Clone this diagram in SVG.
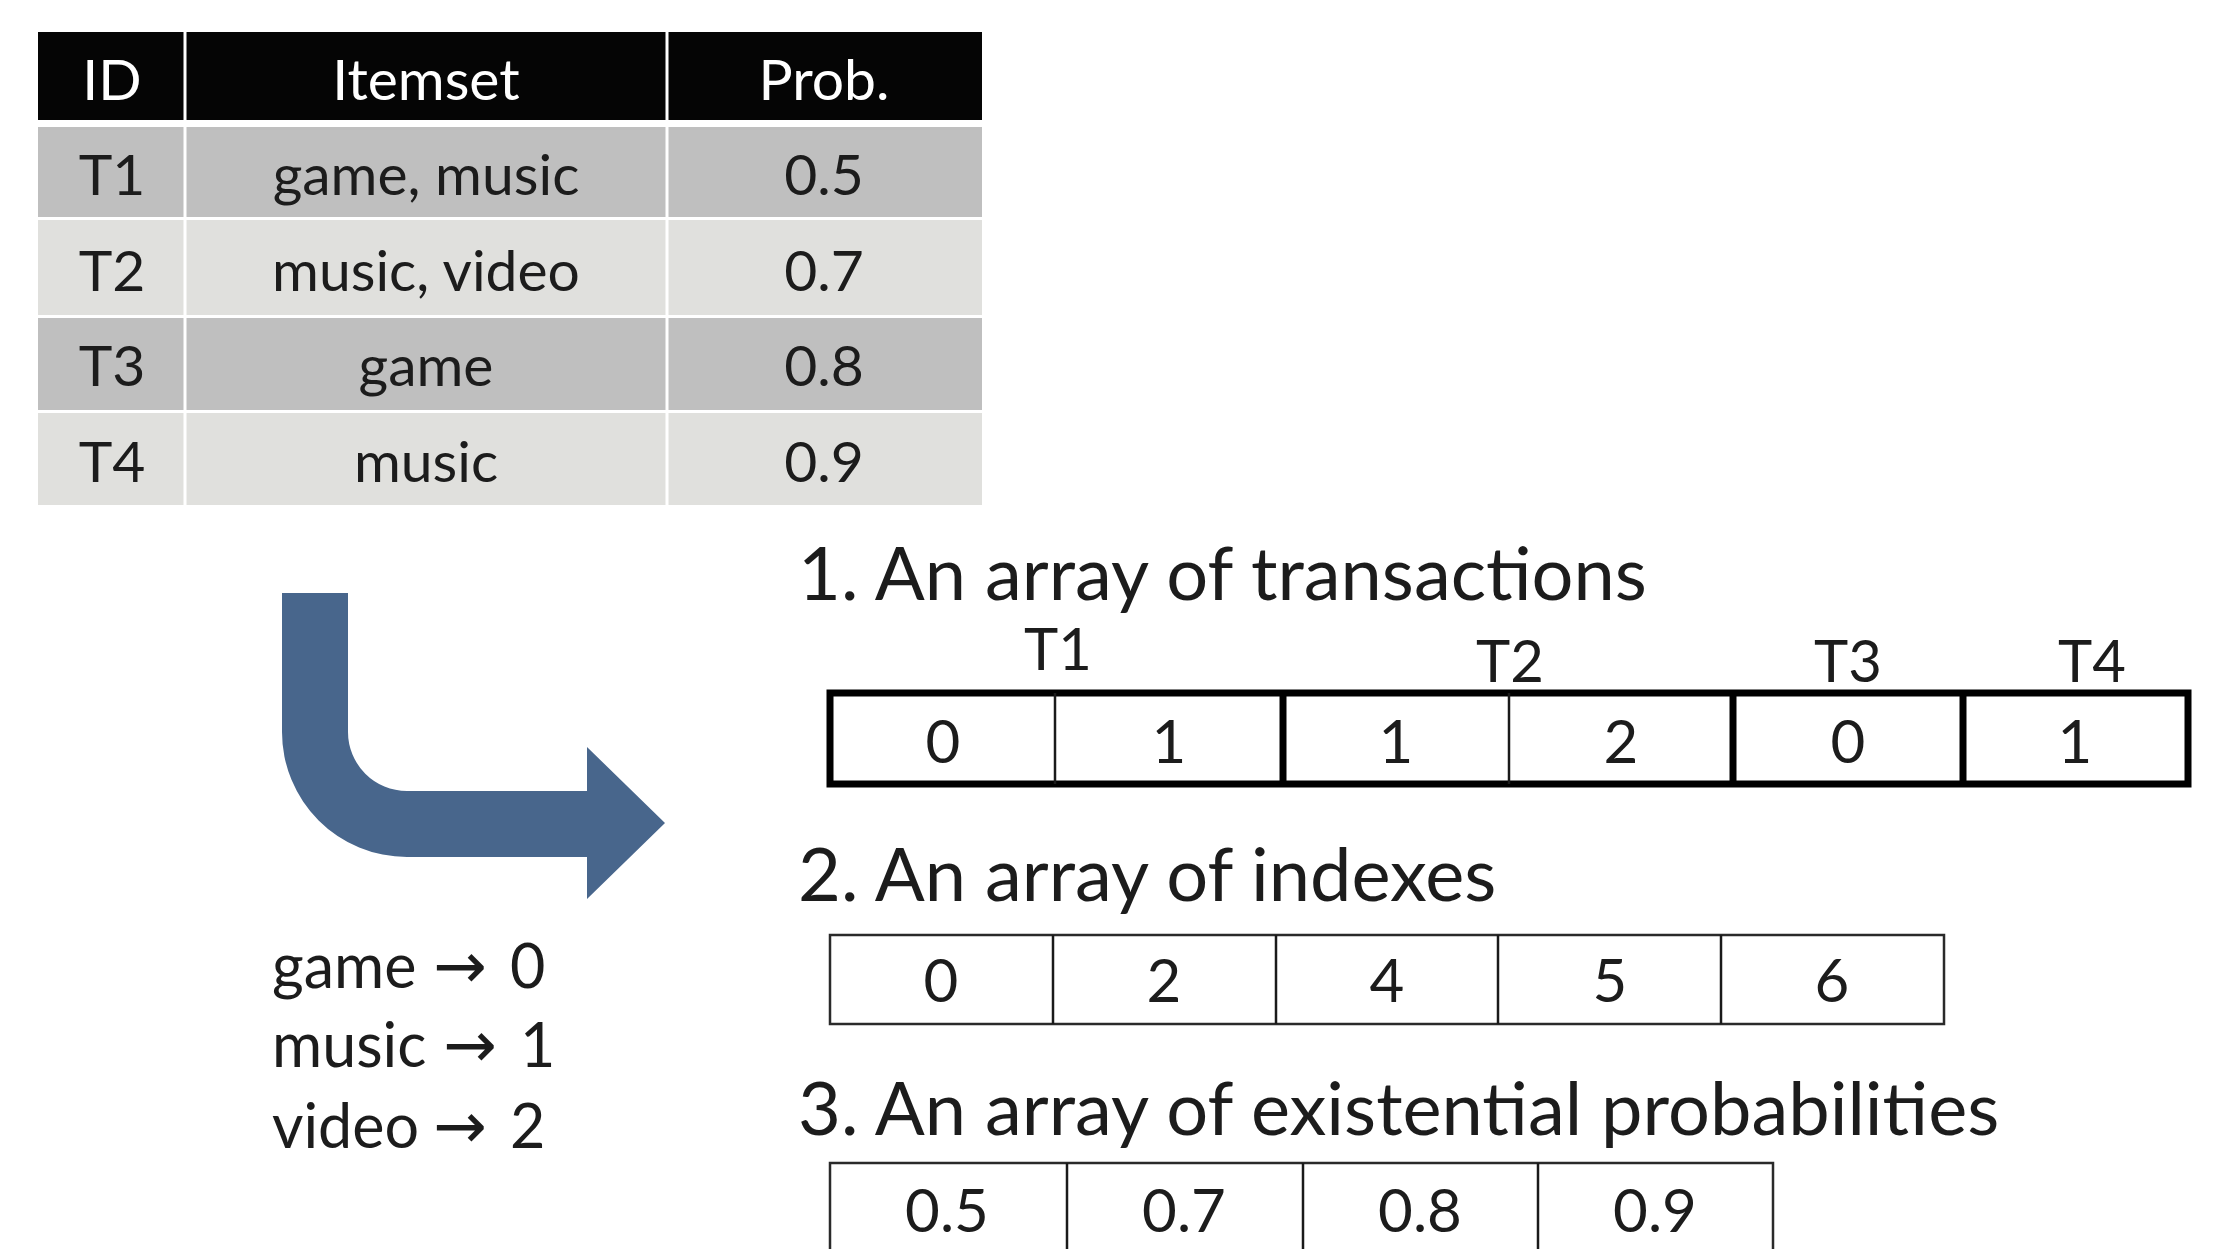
<svg xmlns="http://www.w3.org/2000/svg" width="2217" height="1249" viewBox="0 0 2217 1249">
  <style>
    text { font-family: Lato, "Liberation Sans", sans-serif; fill: #1c1c1c; }
    .th { font-size: 57px; fill: #ffffff; text-anchor: middle; }
    .td { font-size: 57px; text-anchor: middle; }
    .title { font-size: 74px; }
    .lbl { font-size: 58px; text-anchor: middle; }
    .num { font-size: 60px; text-anchor: middle; }
    .map { font-size: 61px; }
    .arr { font-family: "DejaVu Sans", sans-serif; font-size: 64px; }
    .rowA { fill: #bfbfbf; }
    .rowB { fill: #e0e0dd; }
    .thick { fill: #ffffff; stroke: #000000; stroke-width: 7; }
    .thin { fill: #ffffff; stroke: #2a2a2a; stroke-width: 2.5; }
    .divThin { stroke: #1a1a1a; stroke-width: 2.5; }
    .divThick { stroke: #000000; stroke-width: 7; }
  </style>
  <rect width="2217" height="1249" fill="#ffffff"/>

  <g id="table">
    <rect x="38" y="32" width="944" height="88" fill="#050505"/>
    <rect class="rowA" x="38" y="127" width="944" height="90"/>
    <rect class="rowB" x="38" y="220" width="944" height="95"/>
    <rect class="rowA" x="38" y="318" width="944" height="92"/>
    <rect class="rowB" x="38" y="413" width="944" height="92"/>
    <line x1="185" y1="32" x2="185" y2="505" stroke="#ffffff" stroke-width="3"/>
    <line x1="667" y1="32" x2="667" y2="505" stroke="#ffffff" stroke-width="3"/>
    <text class="th" x="112" y="100">ID</text>
    <text class="th" x="426" y="100">Itemset</text>
    <text class="th" x="824" y="100">Prob.</text>
    <text class="td" x="112" y="195">T1</text>
    <text class="td" x="426" y="195">game, music</text>
    <text class="td" x="824" y="195">0.5</text>
    <text class="td" x="112" y="291">T2</text>
    <text class="td" x="426" y="291">music, video</text>
    <text class="td" x="824" y="291">0.7</text>
    <text class="td" x="112" y="386">T3</text>
    <text class="td" x="426" y="386">game</text>
    <text class="td" x="824" y="386">0.8</text>
    <text class="td" x="112" y="482">T4</text>
    <text class="td" x="426" y="482">music</text>
    <text class="td" x="824" y="482">0.9</text>
  </g>

  <g id="connectors">
    <path id="bent-arrow" d="M282,593 H348 V732 A59,59 0 0 0 407,791 H587 V747 L665,823 L587,899 V857 H407 A125,125 0 0 1 282,732 Z" fill="#48668c"/>
  </g>

  <g id="mapping">
    <text class="map" x="272" y="988">game<tspan class="arr" x="433">→</tspan><tspan x="510">0</tspan></text>
    <text class="map" x="272" y="1067">music<tspan class="arr" x="443">→</tspan><tspan x="520">1</tspan></text>
    <text class="map" x="272" y="1148">video<tspan class="arr" x="433">→</tspan><tspan x="510">2</tspan></text>
  </g>

  <g id="array-transactions">
    <text class="title" x="798" y="600">1. An array of transactions</text>
    <text class="lbl" x="1058" y="670">T1</text>
    <text class="lbl" x="1510" y="682">T2</text>
    <text class="lbl" x="1848" y="682">T3</text>
    <text class="lbl" x="2092" y="682">T4</text>
    <rect class="thick" x="830" y="693" width="1358" height="91"/>
    <line class="divThin" x1="1055" y1="693" x2="1055" y2="784"/>
    <line class="divThick" x1="1283" y1="693" x2="1283" y2="784"/>
    <line class="divThin" x1="1509" y1="693" x2="1509" y2="784"/>
    <line class="divThick" x1="1733" y1="693" x2="1733" y2="784"/>
    <line class="divThick" x1="1963" y1="693" x2="1963" y2="784"/>
    <text class="num" x="943" y="763">0</text>
    <text class="num" x="1169" y="763">1</text>
    <text class="num" x="1396" y="763">1</text>
    <text class="num" x="1621" y="763">2</text>
    <text class="num" x="1848" y="763">0</text>
    <text class="num" x="2075" y="763">1</text>
  </g>

  <g id="array-indexes">
    <text class="title" x="798" y="901">2. An array of indexes</text>
    <rect class="thin" x="830" y="935" width="1114" height="89"/>
    <line class="divThin" x1="1053" y1="935" x2="1053" y2="1024"/>
    <line class="divThin" x1="1276" y1="935" x2="1276" y2="1024"/>
    <line class="divThin" x1="1498" y1="935" x2="1498" y2="1024"/>
    <line class="divThin" x1="1721" y1="935" x2="1721" y2="1024"/>
    <text class="num" x="941" y="1002">0</text>
    <text class="num" x="1164" y="1002">2</text>
    <text class="num" x="1387" y="1002">4</text>
    <text class="num" x="1610" y="1002">5</text>
    <text class="num" x="1832" y="1002">6</text>
  </g>

  <g id="array-probabilities">
    <text class="title" x="798" y="1135">3. An array of existential probabilities</text>
    <rect class="thin" x="830" y="1163" width="943" height="120"/>
    <line class="divThin" x1="1067" y1="1163" x2="1067" y2="1283"/>
    <line class="divThin" x1="1303" y1="1163" x2="1303" y2="1283"/>
    <line class="divThin" x1="1538" y1="1163" x2="1538" y2="1283"/>
    <text class="num" x="947" y="1232">0.5</text>
    <text class="num" x="1184" y="1232">0.7</text>
    <text class="num" x="1420" y="1232">0.8</text>
    <text class="num" x="1655" y="1232">0.9</text>
  </g>
</svg>
